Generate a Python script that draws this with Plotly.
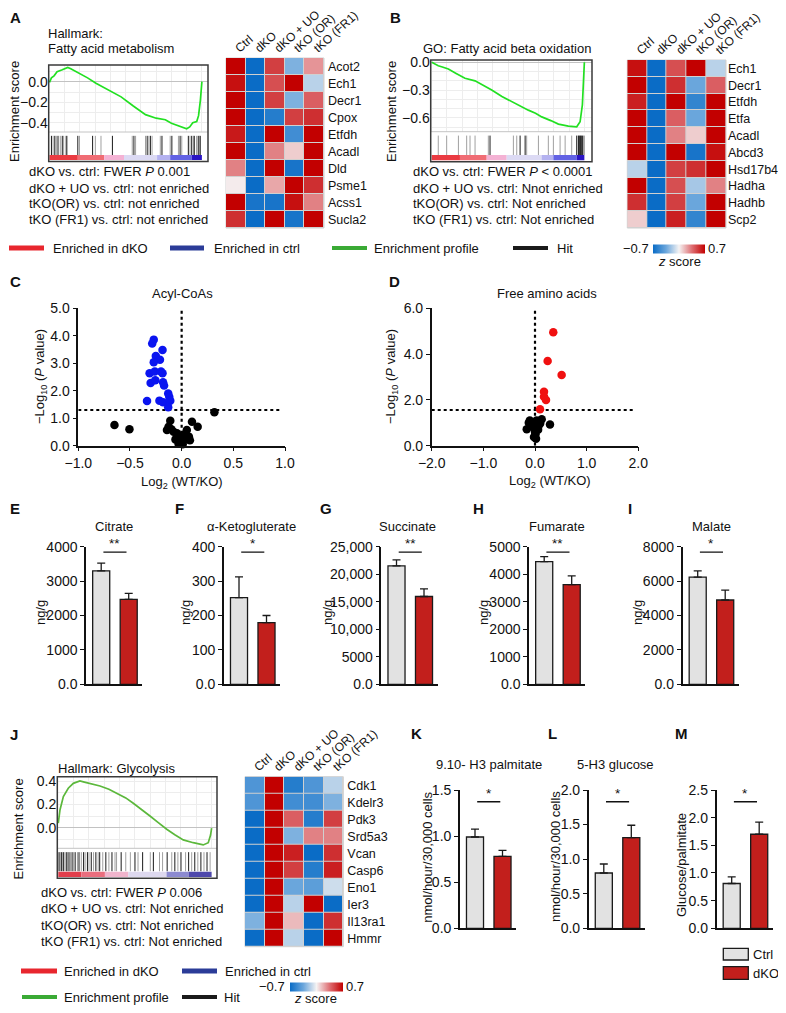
import plotly.graph_objects as go

# the page body keeps its 8 px margin: the figure is sized to fit inside it and
# placed so that reference pixel coordinates map 1:1 on screen
OX, OY = 8, 8
W, H = 786 - 2 * OX, 1013 - 2 * OY
FONT = "Liberation Sans, Arial, sans-serif"
INK = "#111111"

# ---------------- values ----------------
heat_cols = ["Ctrl", "dKO", "dKO + UO", "tKO (OR)", "tKO (FR1)"]

a_genes = ["Acot2", "Ech1", "Decr1", "Cpox", "Etfdh", "Acadl", "Dld", "Psme1", "Acss1", "Sucla2"]
a_z = [[0.70, -0.70, 0.50, -0.30, 0.25],
       [0.65, -0.70, 0.45, 0.70, -0.15],
       [0.70, -0.70, 0.50, -0.30, 0.40],
       [0.70, -0.70, -0.60, 0.50, 0.55],
       [0.62, -0.70, 0.70, -0.50, 0.70],
       [0.70, -0.70, 0.30, 0.10, 0.70],
       [0.30, -0.70, 0.70, -0.65, 0.70],
       [0.02, -0.70, 0.20, 0.70, 0.55],
       [0.70, -0.65, -0.65, 0.65, 0.30],
       [0.55, -0.70, 0.70, -0.65, 0.70]]

b_genes = ["Ech1", "Decr1", "Etfdh", "Etfa", "Acadl", "Abcd3", "Hsd17b4", "Hadha", "Hadhb", "Scp2"]
b_z = [[0.65, -0.70, 0.45, 0.70, -0.15],
       [0.70, -0.70, 0.55, -0.35, 0.40],
       [0.60, -0.70, 0.70, -0.55, 0.70],
       [0.70, -0.70, 0.40, -0.35, 0.70],
       [0.70, -0.70, 0.30, 0.10, 0.70],
       [0.70, -0.70, 0.70, -0.65, 0.65],
       [-0.15, -0.70, 0.50, 0.55, 0.70],
       [0.70, -0.70, 0.45, -0.20, 0.30],
       [0.55, -0.70, 0.50, -0.35, 0.70],
       [0.10, -0.70, 0.60, -0.55, 0.70]]

j_genes = ["Cdk1", "Kdelr3", "Pdk3", "Srd5a3", "Vcan", "Casp6", "Eno1", "Ier3", "Il13ra1", "Hmmr"]
j_z = [[-0.45, 0.70, -0.60, -0.45, -0.15],
       [-0.45, 0.70, -0.50, -0.50, -0.30],
       [-0.70, 0.70, 0.40, -0.60, 0.50],
       [-0.70, 0.70, -0.30, 0.30, 0.30],
       [-0.70, 0.70, 0.60, -0.70, 0.55],
       [-0.70, 0.70, 0.50, -0.60, 0.60],
       [-0.70, 0.70, -0.35, -0.40, -0.10],
       [-0.70, 0.70, -0.15, 0.70, -0.70],
       [-0.30, 0.70, 0.15, -0.70, 0.55],
       [-0.70, 0.70, -0.15, -0.70, 0.70]]

# running enrichment score (position in ranked list, ES)
a_rank = [0, 0.013, 0.03, 0.05, 0.08, 0.12, 0.14, 0.156, 0.195, 0.25, 0.305, 0.38, 0.47,
          0.55, 0.63, 0.70, 0.76, 0.80, 0.844, 0.87, 0.90, 0.92, 0.94, 0.966, 0.978, 0.99, 1.0]
a_es = [-0.005, 0.04, 0.06, 0.10, 0.117, 0.143, 0.13, 0.117, 0.078, 0.04, -0.013, -0.075, -0.146,
        -0.235, -0.32, -0.355, -0.37, -0.405, -0.43, -0.44, -0.459, -0.44, -0.40, -0.387, -0.33, -0.18, 0.003]
b_rank = [0, 0.02, 0.043, 0.07, 0.109, 0.16, 0.218, 0.284, 0.33, 0.393, 0.46, 0.524, 0.58,
          0.633, 0.68, 0.721, 0.78, 0.83, 0.895, 0.93, 0.95, 0.972, 0.987, 1.0]
b_es = [0.0, -0.02, -0.037, -0.05, -0.073, -0.12, -0.173, -0.2, -0.24, -0.3, -0.37, -0.427, -0.47,
        -0.517, -0.55, -0.59, -0.63, -0.668, -0.69, -0.69, -0.697, -0.643, -0.46, 0.0]
j_rank = [0, 0.011, 0.033, 0.05, 0.065, 0.098, 0.141, 0.17, 0.207, 0.272, 0.33, 0.381, 0.44,
          0.489, 0.54, 0.598, 0.65, 0.707, 0.76, 0.815, 0.88, 0.945, 0.978, 0.993, 1.0]
j_es = [0.038, 0.152, 0.266, 0.31, 0.338, 0.38, 0.40, 0.39, 0.38, 0.357, 0.33, 0.295, 0.255,
        0.209, 0.16, 0.10, 0.045, -0.014, -0.06, -0.105, -0.129, -0.148, -0.129, -0.063, -0.005]

# hit positions in the ranked list (dark / light)
a_hits_dk = [0.013, 0.035, 0.056, 0.084, 0.11, 0.186, 0.283, 0.413, 0.554, 0.641, 0.662,
             0.738, 0.803, 0.857, 0.911, 0.933, 0.95, 0.976, 0.989]
a_hits_lt = [0.024, 0.045, 0.071, 0.093, 0.117, 0.197, 0.301, 0.338, 0.543, 0.565, 0.63,
             0.652, 0.673, 0.727, 0.792, 0.846, 0.868, 0.922, 0.944, 0.965, 0.983]
b_hits_dk = [0.382, 0.579, 0.612, 0.95, 0.961, 0.967, 0.974, 0.98, 0.987]
b_hits_lt = [0.043, 0.098, 0.175, 0.229, 0.251, 0.284, 0.371, 0.535, 0.557, 0.622, 0.699,
             0.764, 0.797, 0.841, 0.874, 0.917, 0.994, 1.0]
j_hits_dk = [0.005, 0.02, 0.035, 0.055, 0.07, 0.09, 0.11, 0.135, 0.165, 0.19, 0.215, 0.245,
             0.27, 0.31, 0.35, 0.41, 0.5, 0.55, 0.62, 0.71, 0.76, 0.8, 0.85, 0.89, 0.93, 0.97]
j_hits_lt = [0.012, 0.028, 0.045, 0.062, 0.08, 0.1, 0.125, 0.15, 0.175, 0.2, 0.23, 0.26, 0.29,
             0.33, 0.37, 0.38, 0.44, 0.47, 0.52, 0.6, 0.66, 0.68, 0.74, 0.78, 0.83, 0.87, 0.91, 0.95, 0.99]

# ranked-list colour band: segment edges and colours
a_band_edges = [0, 0.186, 0.359, 0.489, 0.706, 0.792, 0.933, 1.0]
a_band_cols = ["#ea3b42", "#f06c74", "#f4b2d4", "#dcdaf4", "#b4b2f0", "#6262e4", "#2a14c4"]
b_band_edges = [0, 0.185, 0.36, 0.491, 0.72, 0.797, 0.95, 1.0]
b_band_cols = ["#ea3b42", "#f06c74", "#f4b2d4", "#dcdaf4", "#b4b2f0", "#6262e4", "#2a14c4"]
j_band_edges = [0, 0.15, 0.304, 0.457, 0.706, 0.85, 1.0]
j_band_cols = ["#e23e4c", "#ea6e7e", "#f0b4cc", "#ddd8ee", "#8c8ad0", "#4e48ac"]

# volcano plots
c_sig_x = [-0.27, -0.285, -0.185, -0.25, -0.21, -0.27, -0.31, -0.26, -0.20, -0.185, -0.30,
           -0.255, -0.18, -0.17, -0.13, -0.12, -0.335, -0.215, -0.18, -0.11, -0.13]
c_sig_y = [3.86, 3.72, 3.48, 3.26, 3.13, 3.04, 2.64, 2.70, 2.70, 2.64, 2.28,
           2.38, 2.31, 2.19, 1.90, 1.78, 1.63, 1.64, 1.58, 1.64, 1.40]
c_ns_x = [-0.65, -0.505, 0.317, -0.11, -0.126, -0.142, -0.078, -0.045, -0.06, -0.013, -0.03,
          0.01, 0.036, 0.07, 0.08, 0.05, 0.10, 0.155, 0.02, -0.10, 0.0]
c_ns_y = [0.75, 0.60, 1.22, 0.91, 0.69, 0.57, 0.51, 0.45, 0.23, 0.15, 0.07,
          0.05, 0.23, 0.33, 0.20, 0.57, 0.87, 0.69, 0.40, 0.60, 0.30]
d_sig_x = [0.354, 0.245, 0.516, 0.174, 0.174, 0.213, 0.097]
d_sig_y = [4.95, 3.70, 3.09, 2.36, 2.14, 2.00, 1.59]
d_ns_x = [-0.16, -0.10, 0.03, 0.13, 0.29, -0.03, 0.065, 0.0, -0.02, 0.02, 0.06, -0.065, 0.10, 0.01, -0.12, 0.08]
d_ns_y = [0.72, 1.10, 1.10, 1.15, 0.93, 0.80, 0.85, 0.60, 0.38, 0.30, 0.70, 0.97, 0.97, 0.50, 1.0, 1.05]

# bar panels
groups = ["Ctrl", "dKO"]
citrate = [3300, 2470]
citrate_err = [220, 175]
akg = [252, 179]
akg_err = [60, 21]
succinate = [21500, 15950]
succinate_err = [1100, 1400]
fumarate = [4460, 3620]
fumarate_err = [180, 320]
malate = [6230, 4900]
malate_err = [360, 580]
palmitate = [0.99, 0.78]
palmitate_err = [0.085, 0.065]
glucose = [0.80, 1.31]
glucose_err = [0.13, 0.18]
ratio = [0.81, 1.70]
ratio_err = [0.12, 0.22]

# ---------------- helpers ----------------
fig = go.Figure()
lay = {}
ann = []
shp = []
ZSCALE = [[0, "#0a6cc6"], [0.25, "#6aa6dc"], [0.5, "#f5f3f3"], [0.75, "#de6e72"], [1, "#c20000"]]
TXT = 13


def px(x):
    return (x - OX) / W


def py(y):
    return 1 - (y - OY) / H


def axes(n, x0, x1, y0, y1, xa, ya):
    k = "" if n == 1 else str(n)
    lay["xaxis" + k] = dict(xa, domain=[px(x0), px(x1)], anchor="y" + k, automargin=False)
    lay["yaxis" + k] = dict(ya, domain=[py(y1), py(y0)], anchor="x" + k, automargin=False)
    return "x" + k, "y" + k


def txt(x, y, s, size=TXT, xa="left", ya="middle", angle=0):
    ann.append(dict(x=px(x), y=py(y), xref="paper", yref="paper", text=s, showarrow=False,
                    xanchor=xa, yanchor=ya, textangle=angle, borderpad=0,
                    font=dict(family=FONT, size=size, color=INK)))


def prect(x0, y0, x1, y1, fill="rgba(0,0,0,0)", line=None, lw=0):
    shp.append(dict(type="rect", xref="paper", yref="paper", x0=px(x0), x1=px(x1),
                    y0=py(y1), y1=py(y0), fillcolor=fill,
                    line=dict(color=line or "rgba(0,0,0,0)", width=lw)))


def tickfont(size=14):
    return dict(family=FONT, size=size, color=INK)


def gsea(n, box, xr, yr, ytv, ytt, rank, es, hdk, hlt, edges, cols, green):
    left, right, top, split, cb0, cb1, bottom = box
    xc, yc = axes(n, left, right, top, split,
                  dict(range=xr, showticklabels=False, ticks="", showgrid=True, gridcolor="#ededed",
                       dtick=0.1, tick0=0, zeroline=False, showline=False),
                  dict(range=yr, tickvals=ytv, ticktext=ytt, ticks="", showgrid=True, gridcolor="#ededed",
                       minor=dict(dtick=0.1, showgrid=True, gridcolor="#ededed"),
                       zeroline=True, zerolinecolor="#c2c2c2", zerolinewidth=1.2,
                       showline=False, tickfont=tickfont(14)))
    fig.add_trace(go.Scatter(x=rank, y=es, mode="lines", line=dict(color=green, width=1.7),
                             xaxis=xc, yaxis=yc))
    xh, yh = axes(n + 1, left, right, split, cb0, dict(range=xr, visible=False),
                  dict(range=[0, 1.2], visible=False))
    for hs, col in ((hlt, "#a0a0a0"), (hdk, "#1a1a1a")):
        xs, ys = [], []
        for h in hs:
            xs += [h, h, None]
            ys += [0, 1, None]
        fig.add_trace(go.Scatter(x=xs, y=ys, mode="lines", line=dict(color=col, width=1),
                                 xaxis=xh, yaxis=yh))
    xb, yb = axes(n + 2, left, right, cb0, cb1, dict(range=xr, visible=False),
                  dict(range=[-0.5, 0.5], visible=False))
    widths = [edges[i + 1] - edges[i] for i in range(len(cols))]
    fig.add_trace(go.Bar(y=[0] * len(cols), x=widths, base=edges[:-1], orientation="h", width=1,
                         marker=dict(color=cols, line=dict(width=0)), xaxis=xb, yaxis=yb))
    shp.append(dict(type="line", xref="paper", yref="paper", x0=px(left), x1=px(right),
                    y0=py(split), y1=py(split), line=dict(color="#c4c4c4", width=1)))
    prect(left, top, right, bottom, line="#3a3a3a", lw=1.5)


def heat(n, x0, x1, y0, y1, genes, z, cbar=None, standoff=3):
    xc, yc = axes(n, x0, x1, y0, y1,
                  dict(type="category", side="top", tickangle=-42, ticks="", showgrid=False,
                       zeroline=False, tickfont=tickfont(12), ticklabelstandoff=0),
                  dict(type="category", side="right", autorange="reversed", ticks="", showgrid=False,
                       zeroline=False, tickfont=tickfont(12.5), ticklabelstandoff=standoff))
    kw = dict(showscale=False)
    if cbar:
        kw = dict(showscale=True,
                  colorbar=dict(orientation="h", x=px(cbar[0]), xanchor="center", y=py(cbar[1]),
                                yanchor="middle", len=cbar[2], lenmode="pixels", thickness=9,
                                thicknessmode="pixels", showticklabels=False, ticks="",
                                outlinewidth=0, xpad=0, ypad=0))
    fig.add_trace(go.Heatmap(z=z, x=heat_cols, y=genes, zmin=-0.7, zmax=0.7, colorscale=ZSCALE,
                             xgap=1, ygap=1, xaxis=xc, yaxis=yc, **kw))
    shp.append(dict(type="rect", xref=xc + " domain", yref=yc + " domain", x0=0, x1=1, y0=0, y1=1,
                    fillcolor="#d0d0d0", line=dict(color="#d0d0d0", width=1), layer="below"))


def volcano(n, x0, x1, y0, y1, xr, yr, xtv, xtt, ytv, ytt, sx, sy, scol, nx, ny, thr, hend):
    axis = dict(ticks="outside", ticklen=4, tickwidth=1.3, tickcolor=INK, showline=True,
                linecolor=INK, linewidth=1.5, showgrid=False, zeroline=False, tickfont=tickfont(14))
    xc, yc = axes(n, x0, x1, y0, y1, dict(axis, range=xr, tickvals=xtv, ticktext=xtt),
                  dict(axis, range=yr, tickvals=ytv, ticktext=ytt))
    fig.add_trace(go.Scatter(x=nx, y=ny, mode="markers", marker=dict(color="#000000", size=8.5),
                             cliponaxis=False, xaxis=xc, yaxis=yc))
    fig.add_trace(go.Scatter(x=sx, y=sy, mode="markers", marker=dict(color=scol, size=8.5),
                             cliponaxis=False, xaxis=xc, yaxis=yc))
    dot = dict(color="#000000", width=2.2, dash="dot")
    shp.append(dict(type="line", xref=xc, yref=yc, x0=xr[0], x1=hend, y0=thr, y1=thr, line=dot, layer="below"))
    shp.append(dict(type="line", xref=xc, yref=yc, x0=0, x1=0, y0=0, y1=yr[1], line=dot, layer="below"))


def bars(n, ctr, top, bottom, vals, errs, ymax, ytv, ytt, stars, sig_y):
    left = ctr - 0.55 * 27.5
    xc, yc = axes(n, left, left + 2.05 * 27.5, top, bottom,
                  dict(type="category", range=[-0.55, 1.5], showline=True, linecolor=INK, linewidth=1.5,
                       showticklabels=False, ticks="", showgrid=False, zeroline=False),
                  dict(range=[0, ymax], tickvals=ytv, ticktext=ytt, ticks="outside", ticklen=4,
                       tickwidth=1.3, tickcolor=INK, showline=True, linecolor=INK, linewidth=1.5,
                       showgrid=False, zeroline=False, tickfont=tickfont(14)))
    fig.add_trace(go.Bar(x=groups, y=vals, width=0.62,
                         marker=dict(color=["#e2e2e2", "#c21f1c"], line=dict(color="#1a1a1a", width=1.3)),
                         error_y=dict(type="data", array=errs, arrayminus=[0, 0], symmetric=False,
                                      color="#1a1a1a", thickness=1.3, width=4),
                         xaxis=xc, yaxis=yc))
    shp.append(dict(type="line", xref=xc, yref=yc + " domain", x0=0.08, x1=0.92, y0=sig_y, y1=sig_y,
                    line=dict(color=INK, width=1.3)))
    ann.append(dict(x=0.5, y=sig_y, xref=xc, yref=yc + " domain", text=stars, showarrow=False,
                    xanchor="center", yanchor="bottom", borderpad=0, font=dict(family=FONT, size=13.5, color=INK)))


# ---------------- panel A / B ----------------
gsea(1, (48.7, 208, 65, 132, 155, 160, 161.5), [-0.005, 1.04], [-0.49, 0.166],
     [0, -0.2, -0.4], ["0.0", "−0.2", "−0.4"], a_rank, a_es, a_hits_dk, a_hits_lt,
     a_band_edges, a_band_cols, "#22e022")
heat(4, 226, 324, 58, 228, a_genes, a_z)
gsea(5, (430.7, 592, 60, 131.7, 155, 160.5, 161.7), [-0.0066, 1.05], [-0.75, 0.025],
     [0, -0.3, -0.6], ["0.0", "−0.3", "−0.6"], b_rank, b_es, b_hits_dk, b_hits_lt,
     b_band_edges, b_band_cols, "#22e022")
heat(8, 627.3, 726, 60, 228, b_genes, b_z, cbar=(679, 249, 52), standoff=1)

txt(9, 17, "<b>A</b>", 15)
txt(389, 17, "<b>B</b>", 15)
txt(47, 33, "Hallmark:")
txt(47, 49, "Fatty acid metabolism")
txt(422, 49, "GO: Fatty acid beta oxidation")
txt(15, 112, "Enrichment score", xa="center", angle=-90)
txt(392, 112, "Enrichment score", xa="center", angle=-90)
a_lines = ["dKO vs. ctrl: FWER <i>P</i> 0.001", "dKO + UO vs. ctrl: not enriched",
           "tKO(OR) vs. ctrl: not enriched", "tKO (FR1) vs. ctrl: not enriched"]
b_lines = ["dKO vs. ctrl: FWER <i>P</i> < 0.0001", "dKO + UO vs. ctrl: Nnot enriched",
           "tKO(OR) vs. ctrl: Not enriched", "tKO (FR1) vs. ctrl: Not enriched"]
for i, s in enumerate(a_lines):
    txt(28, 172 + 16 * i, s)
for i, s in enumerate(b_lines):
    txt(412, 172 + 16 * i, s)

# legend row
prect(9, 245.5, 44, 250.5, fill="#e8262e")
txt(52, 248, "Enriched in dKO")
prect(170, 245.5, 204, 250.5, fill="#2b3c98")
txt(213, 248, "Enriched in ctrl")
prect(332, 246, 367, 250, fill="#3aaa35")
txt(373, 248, "Enrichment profile")
prect(513, 246, 548, 250, fill="#1a1a1a")
txt(556, 248, "Hit")
txt(650, 248, "−0.7", xa="right")
txt(707, 248, "0.7")
txt(679, 262, "<i>z</i> score", xa="center")

# ---------------- panel C / D ----------------
volcano(9, 78.3, 285, 308.3, 445.7, [-1, 1], [0, 5], [-1, -0.5, 0, 0.5, 1],
        ["−1.0", "−0.5", "0.0", "0.5", "1.0"], [0, 1, 2, 3, 4, 5],
        ["0.0", "1.0", "2.0", "3.0", "4.0", "5.0"], c_sig_x, c_sig_y, "#0a14f0",
        c_ns_x, c_ns_y, 1.3, 0.97)
volcano(10, 431.7, 638.3, 308.3, 445.7, [-2, 2], [0, 6], [-2, -1, 0, 1, 2],
        ["−2.0", "−1.0", "0.0", "1.0", "2.0"], [0, 2, 4, 6], ["0.0", "2.0", "4.0", "6.0"],
        d_sig_x, d_sig_y, "#f01010", d_ns_x, d_ns_y, 1.56, 1.95)
txt(9, 281, "<b>C</b>", 15)
txt(388, 281, "<b>D</b>", 15)
txt(182, 293, "Acyl-CoAs", xa="center")
txt(547, 293, "Free amino acids", xa="center")
txt(40, 377, "−Log<sub>10</sub> (<i>P</i> value)", xa="center", angle=-90)
txt(391, 377, "−Log<sub>10</sub> (<i>P</i> value)", xa="center", angle=-90)
txt(182, 482, "Log<sub>2</sub> (WT/KO)", xa="center")
txt(550, 481, "Log<sub>2</sub> (WT/KO)", xa="center")

# ---------------- panels E-I ----------------
bars(11, 101.2, 546.7, 684.3, citrate, citrate_err, 4000, [0, 1000, 2000, 3000, 4000],
     ["0.0", "1000", "2000", "3000", "4000"], "**", 0.96)
bars(12, 239, 546.7, 684.3, akg, akg_err, 400, [0, 100, 200, 300, 400],
     ["0.0", "100", "200", "300", "400"], "*", 0.96)
bars(13, 396.5, 546.7, 684.3, succinate, succinate_err, 25000, [0, 5000, 10000, 15000, 20000, 25000],
     ["0.0", "5000", "10,000", "15,000", "20,000", "25,000"], "**", 0.96)
bars(14, 544.2, 546.7, 684.3, fumarate, fumarate_err, 5000, [0, 1000, 2000, 3000, 4000, 5000],
     ["0.0", "1000", "2000", "3000", "4000", "5000"], "**", 0.96)
bars(15, 697.7, 546.7, 684.3, malate, malate_err, 8000, [0, 2000, 4000, 6000, 8000],
     ["0.0", "2000", "4000", "6000", "8000"], "*", 0.96)
for s, x in (("E", 9), ("F", 174), ("G", 319), ("H", 472), ("I", 627)):
    txt(x, 508, "<b>%s</b>" % s, 15)
for s, x in (("Citrate", 114), ("α-Ketogluterate", 251), ("Succinate", 407),
             ("Fumarate", 557), ("Malate", 711)):
    txt(x, 526, s, xa="center")
for x in (40, 185, 327, 483, 637):
    txt(x, 613, "ng/g", xa="center", angle=-90)

# ---------------- panel J ----------------
gsea(16, (57.3, 217, 776.7, 848.3, 871.5, 877, 878.3), [-0.0065, 1.035], [-0.177, 0.437],
     [0.4, 0.2, 0.0], ["0.4", "0.2", "0.0"], j_rank, j_es, j_hits_dk, j_hits_lt,
     j_band_edges, j_band_cols, "#5cb83c")
heat(19, 245, 343.3, 776.7, 946.7, j_genes, j_z, cbar=(316.7, 987, 53))
txt(9, 734, "<b>J</b>", 15)
txt(57, 768, "Hallmark: Glycolysis")
txt(17.5, 829, "Enrichment score", xa="center", angle=-90)
j_lines = ["dKO vs. ctrl: FWER <i>P</i> 0.006", "dKO + UO vs. ctrl: Not enriched",
           "tKO(OR) vs. ctrl: Not enriched", "tKO (FR1) vs. ctrl: Not enriched"]
for i, s in enumerate(j_lines):
    txt(40, 892 + 16.5 * i, s)
prect(21, 968.5, 57, 973.5, fill="#e8262e")
txt(63, 971, "Enriched in dKO")
prect(182, 968.5, 217, 973.5, fill="#2b3c98")
txt(224, 971, "Enriched in ctrl")
prect(22, 995, 57, 999, fill="#3aaa35")
txt(63, 997, "Enrichment profile")
prect(182, 995, 217, 999, fill="#1a1a1a")
txt(223, 997, "Hit")
txt(286, 986, "−0.7", xa="right")
txt(345, 986, "0.7")
txt(315, 998, "<i>z</i> score", xa="center")

# ---------------- panels K-M ----------------
bars(20, 475, 790, 928.3, palmitate, palmitate_err, 1.5, [0, 0.5, 1.0, 1.5],
     ["0.0", "0.5", "1.0", "1.5"], "*", 0.915)
bars(21, 603.8, 790, 928.3, glucose, glucose_err, 2.0, [0, 0.5, 1.0, 1.5, 2.0],
     ["0.0", "0.5", "1.0", "1.5", "2.0"], "*", 0.915)
bars(22, 731.7, 790, 928.3, ratio, ratio_err, 2.5, [0, 0.5, 1.0, 1.5, 2.0, 2.5],
     ["0.0", "0.5", "1.0", "1.5", "2.0", "2.5"], "*", 0.915)
txt(410, 733, "<b>K</b>", 15)
txt(547, 733, "<b>L</b>", 15)
txt(674, 733, "<b>M</b>", 15)
txt(488.5, 764, "9.10- H3 palmitate", xa="center")
txt(615.5, 764, "5-H3 glucose", xa="center")
txt(426.7, 857, "nmol/hour/30,000 cells", xa="center", angle=-90)
txt(555, 857, "nmol/hour/30,000 cells", xa="center", angle=-90)
txt(681, 865, "Glucose/palmitate", xa="center", angle=-90)
prect(723.3, 948.3, 748.3, 960, fill="#e2e2e2", line="#1a1a1a", lw=1.3)
prect(723.3, 966.7, 748.3, 979.3, fill="#c21f1c", line="#1a1a1a", lw=1.3)
txt(752, 954, "Ctrl")
txt(752, 973, "dKO")

fig.update_layout(width=W, height=H, margin=dict(l=0, r=0, t=0, b=0, autoexpand=False),
                  paper_bgcolor="white", plot_bgcolor="white", showlegend=False,
                  font=dict(family=FONT, size=TXT, color=INK),
                  annotations=ann, shapes=shp, **lay)
fig.write_html("out.html")
